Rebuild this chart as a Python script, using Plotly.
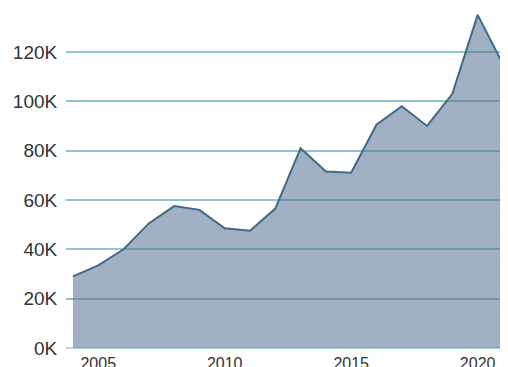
import plotly.graph_objects as go

years = list(range(2004, 2022))
values = [29000, 33500, 40000, 50500, 57500, 56000, 48500, 47500, 56500,
          81000, 71500, 71000, 90500, 98000, 90000, 103000, 135000, 115000]

tick_years = [2005, 2010, 2015, 2020]
tick_vals = [0, 20000, 40000, 60000, 80000, 100000, 120000]
tick_text = ["0K", "20K", "40K", "60K", "80K", "100K", "120K"]

fig = go.Figure()
fig.add_trace(go.Scatter(
    x=years, y=values, mode="lines", fill="tozeroy",
    line=dict(color="#3e6b85", width=2),
    fillcolor="rgba(86,112,148,0.55)",
    hoverinfo="skip",
))

# page body adds an 8px offset, margins account for it
fig.update_layout(
    width=508, height=367,
    margin=dict(l=58, r=8, t=0, b=27),
    plot_bgcolor="white", paper_bgcolor="white",
    showlegend=False,
    font=dict(family="Liberation Sans, Arial, sans-serif", color="#333333"),
    xaxis=dict(
        range=[2003.725, 2021.2],
        tickvals=tick_years,
        showgrid=False, zeroline=False, showline=False,
        tickfont=dict(size=16),
        ticks="", ticklen=0, ticklabelstandoff=4,
    ),
    yaxis=dict(
        range=[0, 137800],
        tickvals=tick_vals, ticktext=tick_text,
        showgrid=True, gridcolor="#8fc2d3", gridwidth=2,
        zeroline=True, zerolinecolor="#b5d8e3", zerolinewidth=2,
        showline=False,
        tickfont=dict(size=19),
        ticks="outside", ticklen=4, tickcolor="white",
    ),
)

fig.write_html("out.html")
